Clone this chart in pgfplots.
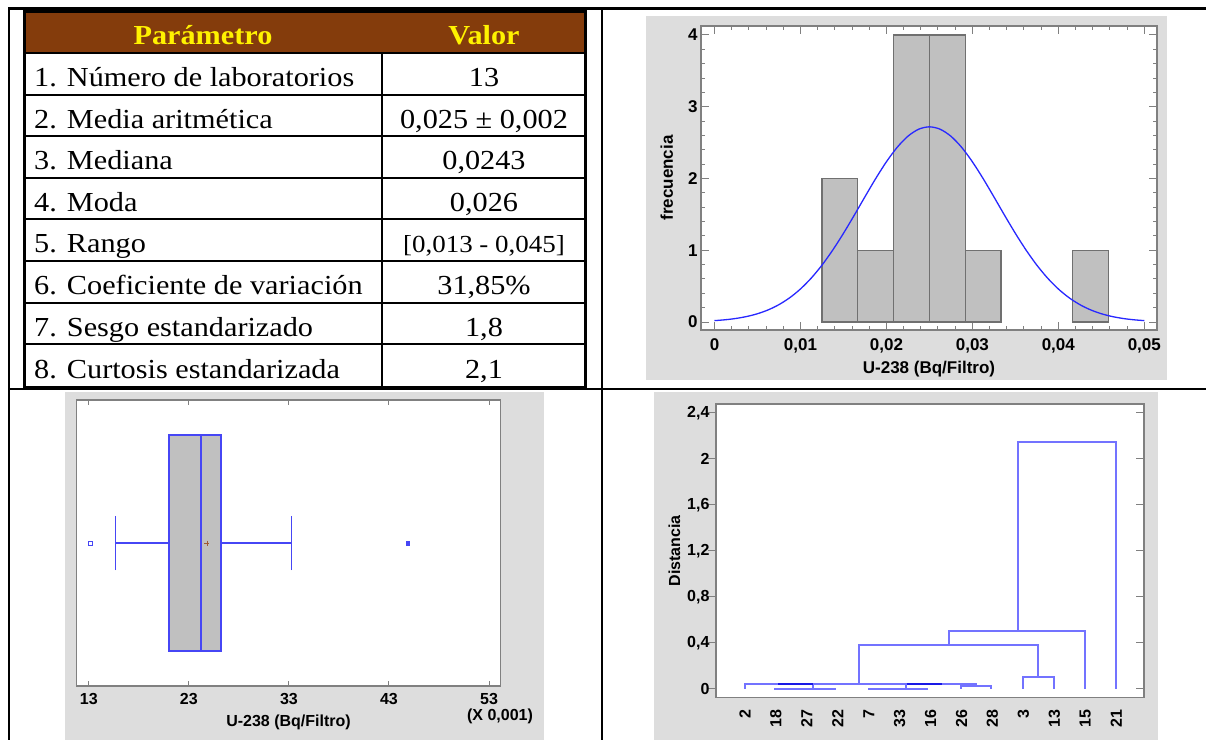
\documentclass[border=0pt]{standalone}
\usepackage{fontspec}
\setmainfont{Liberation Serif}
\newfontfamily\tabfont[FakeStretch=1.1]{Liberation Serif}
\newfontfamily\arialfont{Liberation Sans}
\usepackage{pgfplots}
\pgfplotsset{compat=1.18}
\usepgfplotslibrary{statistics}

\definecolor{hdrbrown}{RGB}{132,60,12}
\definecolor{panelgray}{RGB}{221,221,221}
\definecolor{bargray}{RGB}{192,192,192}
\definecolor{baredge}{RGB}{112,112,112}
\definecolor{framegray}{RGB}{128,128,128}
\definecolor{curveblue}{RGB}{40,40,255}
\definecolor{dendblue}{RGB}{115,115,255}
\definecolor{dendblue2}{RGB}{25,25,230}
\definecolor{boxblue}{RGB}{70,70,245}
\definecolor{meanbrown}{RGB}{160,90,50}

\newcommand\tf{\tabfont\fontsize{27.5}{27.5}\selectfont}
\newcommand\af[1]{\arialfont\bfseries\fontsize{#1}{#1}\selectfont}

\pgfplotsset{
  statstyle/.style={
    scale only axis,
    anchor=south west,
    axis background/.style={fill=white},
    axis line style={framegray, line width=1.5pt},
    tick style={framegray, line width=1pt},
    tick align=inside,
    major tick length=8pt,
    minor tick length=4pt,
  }
}

\begin{document}
\begin{tikzpicture}
\path[use as bounding box] (0pt,0pt) rectangle (1206pt,740pt);

% grey panels behind the three charts
\fill[panelgray] (646pt,360pt) rectangle (1167pt,724pt);
\fill[panelgray] (65pt,0pt) rectangle (544pt,348pt);
\fill[panelgray] (654pt,0pt) rectangle (1158pt,348pt);

% ---- table ----
\fill[hdrbrown] (25pt,687pt) rectangle (584pt,727pt);
\draw[line width=2pt] (25pt,687pt) -- (584pt,687pt);
\draw[line width=2pt] (25pt,645pt) -- (584pt,645pt);
\draw[line width=2pt] (25pt,603.5pt) -- (584pt,603.5pt);
\draw[line width=2pt] (25pt,562pt) -- (584pt,562pt);
\draw[line width=2pt] (25pt,520.5pt) -- (584pt,520.5pt);
\draw[line width=2pt] (25pt,479pt) -- (584pt,479pt);
\draw[line width=2pt] (25pt,437.5pt) -- (584pt,437.5pt);
\draw[line width=2pt] (25pt,396pt) -- (584pt,396pt);
\draw[line width=2pt] (382pt,687pt) -- (382pt,354pt);
\draw[line width=3pt] (24.5pt,353pt) rectangle (585.5pt,728pt);

\node[anchor=base, inner sep=0pt, text=yellow] at (203pt,695pt) {\tf\bfseries Parámetro};
\node[anchor=base, inner sep=0pt, text=yellow] at (484pt,695pt) {\tf\bfseries Valor};

\node[anchor=base west, inner sep=0pt] at (34pt,653pt) {\tf 1. Número de laboratorios};
\node[anchor=base west, inner sep=0pt] at (34pt,611.5pt) {\tf 2. Media aritmética};
\node[anchor=base west, inner sep=0pt] at (34pt,570pt) {\tf 3. Mediana};
\node[anchor=base west, inner sep=0pt] at (34pt,528.5pt) {\tf 4. Moda};
\node[anchor=base west, inner sep=0pt] at (34pt,487pt) {\tf 5. Rango};
\node[anchor=base west, inner sep=0pt] at (34pt,445.5pt) {\tf 6. Coeficiente de variación};
\node[anchor=base west, inner sep=0pt] at (34pt,404pt) {\tf 7. Sesgo estandarizado};
\node[anchor=base west, inner sep=0pt] at (34pt,362pt) {\tf 8. Curtosis estandarizada};

\node[anchor=base, inner sep=0pt] at (484pt,653pt) {\tf 13};
\node[anchor=base, inner sep=0pt] at (484pt,611.5pt) {\tf 0,025 ± 0,002};
\node[anchor=base, inner sep=0pt] at (484pt,570pt) {\tf 0,0243};
\node[anchor=base, inner sep=0pt] at (484pt,528.5pt) {\tf 0,026};
\node[anchor=base, inner sep=0pt] at (484pt,487pt) {\tabfont\fontsize{24.5}{24.5}\selectfont [0,013 - 0,045]};
\node[anchor=base, inner sep=0pt] at (484pt,445.5pt) {\tf 31,85\%};
\node[anchor=base, inner sep=0pt] at (484pt,404pt) {\tf 1,8};
\node[anchor=base, inner sep=0pt] at (484pt,362pt) {\tf 2,1};

% ---- histogram ----
\begin{axis}[statstyle,
  at={(701pt,410pt)}, width=456pt, height=304pt,
  xmin=-0.00157, xmax=0.05148, ymin=-0.111, ymax=4.125,
  scaled x ticks=false,
  xtick={0,0.01,0.02,0.03,0.04,0.05},
  xticklabels={0,{0,01},{0,02},{0,03},{0,04},{0,05}},
  minor x tick num=4,
  ytick={0,1,2,3,4}, yticklabels={0,1,2,3,4},
  minor y tick num=4,
  xlabel={U-238 (Bq/Filtro)}, ylabel={frecuencia},
  tick label style={font=\af{17}},
  label style={font=\af{17}},
  xticklabel shift=5pt,
  xlabel shift=1pt,
  ylabel shift=8pt,
]
\addplot[ybar interval, fill=bargray, draw=baredge, line width=1.2pt]
  coordinates {(0.0125,2) (0.016667,1) (0.020833,4) (0.025,4) (0.029167,1) (0.033333,0)};
\addplot[ybar interval, fill=bargray, draw=baredge, line width=1.2pt]
  coordinates {(0.041667,1) (0.045833,0)};
\addplot[curveblue, line width=1.3pt, smooth] coordinates {
  (0,0.0196) (0.00125,0.0317) (0.0025,0.0501) (0.00375,0.0771) (0.005,0.1158)
  (0.00625,0.1697) (0.0075,0.2427) (0.00875,0.3385) (0.01,0.4607) (0.01125,0.6118)
  (0.0125,0.7926) (0.01375,1.0019) (0.015,1.2356) (0.01625,1.4865) (0.0175,1.7449)
  (0.01875,1.9985) (0.02,2.2330) (0.02125,2.4343) (0.0225,2.5891) (0.02375,2.6867)
  (0.025,2.72) (0.02625,2.6867) (0.0275,2.5891) (0.02875,2.4343) (0.03,2.2330)
  (0.03125,1.9985) (0.0325,1.7449) (0.03375,1.4865) (0.035,1.2356) (0.03625,1.0019)
  (0.0375,0.7926) (0.03875,0.6118) (0.04,0.4607) (0.04125,0.3385) (0.0425,0.2427)
  (0.04375,0.1697) (0.045,0.1158) (0.04625,0.0771) (0.0475,0.0501) (0.04875,0.0317)
  (0.05,0.0196)
};
\end{axis}

% ---- box plot ----
\begin{axis}[statstyle,
  at={(76.5pt,54pt)}, width=424pt, height=286pt,
  xmin=11.77, xmax=54.15, ymin=-1, ymax=1,
  xtick={13,23,33,43,53}, xticklabels={13,23,33,43,53},
  ytick=\empty,
  major tick length=5pt,
  xlabel={U-238 (Bq/Filtro)},
  tick label style={font=\af{16}},
  label style={font=\af{16}},
  xticklabel shift=4pt,
  xlabel shift=3pt,
  boxplot/every median/.style={draw=boxblue, line width=2pt},
]
\addplot[boxplot prepared={lower whisker=15.68, lower quartile=20.99,
    median=24.24, upper quartile=26.19, upper whisker=33.26,
    draw position=0, box extend=1.51, whisker extend=0.38},
  draw=boxblue, fill=bargray, line width=1.6pt] coordinates {};
\addplot[only marks, mark=+, mark size=2.5pt, meanbrown] coordinates {(24.81,0)};
\addplot[only marks, mark=square, mark size=1.8pt, boxblue] coordinates {(13.15,0)};
\addplot[only marks, mark=square*, mark size=1.8pt, boxblue] coordinates {(44.89,0)};
\end{axis}
\node[font=\af{16}, inner sep=0pt] at (500pt,24pt) {(X 0,001)};

% ---- dendrogram ----
\begin{axis}[statstyle,
  at={(716pt,42.3pt)}, width=428pt, height=293.7pt,
  xmin=0.061, xmax=13.9, ymin=-0.078, ymax=2.476,
  xtick={1,2,3,4,5,6,7,8,9,10,11,12,13},
  xticklabels={2,18,27,22,7,33,16,26,28,3,13,15,21},
  xticklabel style={rotate=90, anchor=east},
  major x tick style={draw=none},
  ytick={0,0.4,0.8,1.2,1.6,2,2.4},
  yticklabels={0,{0,4},{0,8},{1,2},{1,6},2,{2,4}},
  yticklabel style={xshift=5pt},
  ytick pos=left, tick align=outside,
  ylabel={Distancia},
  tick label style={font=\af{16}},
  label style={font=\af{16}},
]
\addplot[dendblue, line width=2pt] coordinates {(1,0) (1,0.038) (8.48,0.038) (8.48,0.02)};
\addplot[dendblue, line width=2pt] coordinates {(7.98,0) (7.98,0.02) (8.96,0.02) (8.96,0)};
\addplot[dendblue, line width=2pt] coordinates {(1.94,0) (3.94,0)};
\addplot[dendblue, line width=2pt] coordinates {(3.2,0) (3.2,0.04)};
\addplot[dendblue, line width=2pt] coordinates {(4.98,0) (6.92,0)};
\addplot[dendblue, line width=2pt] coordinates {(6.21,0) (6.21,0.04)};
\addplot[dendblue2, line width=2pt] coordinates {(2.07,0.04) (3.2,0.04)};
\addplot[dendblue2, line width=2pt] coordinates {(6.23,0.04) (7.36,0.04)};
\addplot[dendblue, line width=2pt] coordinates {(4.7,0.04) (4.7,0.377) (10.48,0.377) (10.48,0.104)};
\addplot[dendblue, line width=2pt] coordinates {(9.98,0) (9.98,0.104) (10.98,0.104) (10.98,0)};
\addplot[dendblue, line width=2pt] coordinates {(7.61,0.377) (7.61,0.5) (12,0.5) (12,0)};
\addplot[dendblue, line width=2pt] coordinates {(9.81,0.5) (9.81,2.148) (13,2.148) (13,0)};
\end{axis}
% right-hand inner ticks of the dendrogram frame
\begin{axis}[scale only axis, anchor=south west,
  at={(716pt,42.3pt)}, width=428pt, height=293.7pt,
  xmin=0.061, xmax=13.9, ymin=-0.078, ymax=2.476,
  axis line style={draw=none}, xtick=\empty,
  ytick={0,0.4,0.8,1.2,1.6,2,2.4}, yticklabels={},
  ytick pos=right, tick align=inside,
  tick style={framegray, line width=1pt}, major tick length=8pt,
]
\end{axis}

% ---- outer frame of the layout ----
\draw[line width=3pt] (8pt,731pt) -- (1206pt,731pt);
\draw[line width=2pt] (9pt,732pt) -- (9pt,0pt);
\draw[line width=2pt] (602pt,732pt) -- (602pt,0pt);
\draw[line width=2pt] (9pt,351pt) -- (1206pt,351pt);
\end{tikzpicture}
\end{document}
